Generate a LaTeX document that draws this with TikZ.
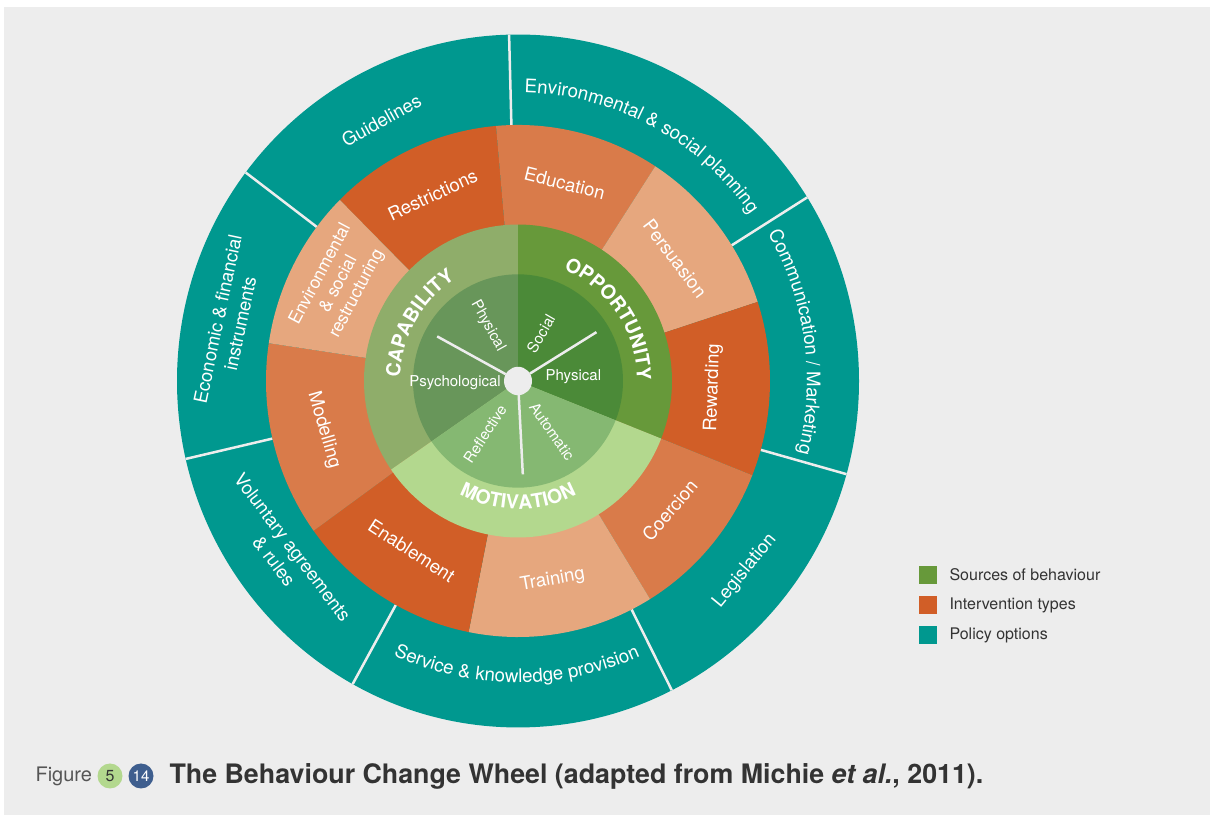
\documentclass[tikz,border=0pt]{standalone}
\usepackage{fontspec}
\setmainfont{TeX Gyre Heros}
\usetikzlibrary{decorations.text}
\definecolor{bgGray}{HTML}{EDEDED}
\definecolor{policyTeal}{HTML}{00988F}
\definecolor{intDark}{HTML}{D15E27}
\definecolor{intMid}{HTML}{D97B4A}
\definecolor{intLight}{HTML}{E6A77E}
\definecolor{capOut}{HTML}{8FAD6A}
\definecolor{capIn}{HTML}{68965A}
\definecolor{oppOut}{HTML}{67993A}
\definecolor{oppIn}{HTML}{4B8A38}
\definecolor{motOut}{HTML}{B3D88E}
\definecolor{motIn}{HTML}{85B872}
\definecolor{chapBlue}{HTML}{3E5E8E}
\definecolor{txtGray}{HTML}{333333}
\definecolor{figGray}{HTML}{555555}

\begin{document}
\begin{tikzpicture}[x=1pt, y=1pt,
  policylabel/.style={text=white, font=\fontsize{18.5}{23}\selectfont, align=center},
  itypelabel/.style={text=white, font=\fontsize{18.5}{21}\selectfont, align=center},
  srclabel/.style={text=white, font=\fontsize{15}{18}\selectfont},
  gapline/.style={draw=bgGray, line width=2.5pt},
  arclabel/.style={decorate, decoration={text along path, text align=center, text color=white, text={#1}}}]
  \useasboundingbox (0,0) rectangle (1210,819);
  \fill[white] (0,0) rectangle (1210,819);
  \fill[bgGray] (4,4) rectangle (1210,812);
  \begin{scope}[shift={(518,438)}, yscale=1.016]
    \fill[policyTeal] (0,0) circle (341);
    \foreach \a in {91.5, 143, 193, 241, -63.2, -15.6, 32}
      \draw[gapline] (\a:252) -- (\a:341);
    \foreach \a/\b/\c in {95/135/intDark, 57/95/intMid, 18/57/intLight, -21.6/18/intDark, -58.4/-21.6/intMid,
        -101.3/-58.4/intLight, 215.8/258.7/intDark, 171.5/215.8/intMid, 135/171.5/intLight}
      \fill[\c] (0,0) -- (\a:252) arc[start angle=\a, end angle=\b, radius=252] -- cycle;
    \foreach \a/\b/\c in {90/214.5/capOut, -21.6/90/oppOut, 214.5/338.4/motOut}
      \fill[\c] (0,0) -- (\a:154) arc[start angle=\a, end angle=\b, radius=154] -- cycle;
    \foreach \a/\b/\c in {90/214.5/capIn, -21.6/90/oppIn, 214.5/338.4/motIn}
      \fill[\c] (0,0) -- (\a:105) arc[start angle=\a, end angle=\b, radius=105] -- cycle;
    \foreach \a in {151.5, 31.5, -87}
      \draw[gapline] (\a:14) -- (\a:92);
    \fill[bgGray] (0,0) circle (14);

    \node[policylabel, rotate=29] (guidelines) at (118:291) {Guidelines};
    \path[arclabel={|\fontsize{18.7}{18.7}\selectfont|Environmental {\&} social planning}]
      (92:284) arc[start angle=92, end angle=32, radius=284];
    \path[arclabel={|\fontsize{18.7}{18.7}\selectfont|Communication / Marketing}]
      (34:289) arc[start angle=34, end angle=-18, radius=289];
    \node[policylabel, rotate=50.5] (legislation) at (-39.5:294) {Legislation};
    \path[arclabel={|\fontsize{18.7}{18.7}\selectfont|Service {\&} knowledge provision}]
      (238:297) arc[start angle=238, end angle=301.5, radius=297];
    \node[policylabel, rotate=-53] (voluntary) at (216:290) {Voluntary agreements\\\& rules};
    \node[policylabel, rotate=78] (economic) at (168.5:295) {Economic \& financial\\instruments};

    \node[itypelabel, rotate=25] (restrictions) at (115:202) {Restrictions};
    \node[itypelabel, rotate=-14] (education) at (76.5:200) {Education};
    \node[itypelabel, rotate=-53] (persuasion) at (37.5:198) {Persuasion};
    \node[itypelabel, rotate=88] (rewarding) at (-2:195) {Rewarding};
    \node[itypelabel, rotate=50] (coercion) at (-40:198) {Coercion};
    \node[itypelabel, rotate=10] (training) at (-80:199) {Training};
    \node[itypelabel, rotate=-33] (enablement) at (237.5:198) {Enablement};
    \node[itypelabel, rotate=-74] (modelling) at (194:200) {Modelling};
    \node[itypelabel, rotate=62, font=\fontsize{17.5}{20.5}\selectfont] (restructuring) at (152:203)
      {Environmental\\\& social\\restructuring};

    \path[arclabel={|\bfseries\fontsize{19.5}{19.5}\selectfont|CAPABILITY}]
      (210:118) arc[start angle=210, end angle=90, radius=118];
    \path[arclabel={|\bfseries\fontsize{19.5}{19.5}\selectfont|OPPORTUNITY}]
      (79:119) arc[start angle=79, end angle=-11, radius=119];
    \path[arclabel={|\bfseries\fontsize{19.5}{19.5}\selectfont|MOTIVATION}]
      (220:126) arc[start angle=220, end angle=320, radius=126];

    \node[srclabel, rotate=-61] (capphys) at (119:62) {Physical};
    \node[srclabel] (cappsych) at (181.8:63) {Psychological};
    \node[srclabel, rotate=60] (oppsocial) at (63.8:52) {Social};
    \node[srclabel] (oppphys) at (4:55.5) {Physical};
    \node[srclabel, rotate=57] (motrefl) at (237.6:61.6) {Reflective};
    \node[srclabel, rotate=-55] (motauto) at (-55.8:60.5) {Automatic};
  \end{scope}

  \foreach \y/\c/\t [count=\i] in {244/oppOut/Sources of behaviour, 214/intDark/Intervention types, 184/policyTeal/Policy options} {
    \fill[\c] (919,\y-9) rectangle ++(18,18);
    \node[anchor=west, text=txtGray, font=\fontsize{16}{18}\selectfont] (legend\i) at (946,\y) {\t};
  }

  \node[anchor=west, text=figGray, font=\fontsize{20}{24}\selectfont] (figword) at (32,43) {Figure};
  \node[circle, fill=motOut, inner sep=0pt, minimum size=25pt, text=txtGray, font=\fontsize{16}{16}\selectfont] (chapnum) at (110,43) {5};
  \node[circle, fill=chapBlue, inner sep=0pt, minimum size=25pt, text=white, font=\fontsize{15}{15}\selectfont] (fignum) at (141,43) {14};
  \node[anchor=west, text=txtGray, font=\bfseries\fontsize{26.8}{30}\selectfont] (title) at (166,43)
    {The Behaviour Change Wheel (adapted from Michie \textit{et al.}, 2011).};
\end{tikzpicture}
\end{document}
